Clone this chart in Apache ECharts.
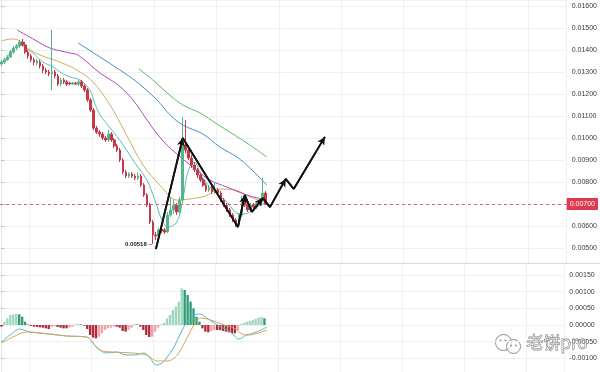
<!DOCTYPE html>
<html><head><meta charset="utf-8">
<script src="https://cdn.jsdelivr.net/npm/echarts@6/dist/echarts.min.js"></script>
<style>html,body{margin:0;padding:0;background:#fff}#c{width:600px;height:372px}</style>
</head><body><div id="c"></div>
<script>
// ---------- data ----------
const slotCount = 191; // candle slots across the visible time axis
const categories = Array.from({length: slotCount}, (_, i) => String(i));

const opens = [
0.01336,0.01345,0.01355,0.01368,0.01391,0.01409,0.01418,0.01436,0.01423,0.01391,
0.01373,0.01355,0.01340,0.01345,0.01327,0.01309,0.01300,0.01291,0.01300,0.01282,
0.01245,0.01264,0.01255,0.01250,0.01245,0.01250,0.01245,0.01255,0.01236,0.01218,
0.01173,0.01127,0.01045,0.01027,0.01018,0.01000,0.00991,0.01018,0.00991,0.00964,
0.00945,0.00900,0.00845,0.00827,0.00836,0.00827,0.00818,0.00827,0.00786,0.00741,
0.00695,0.00618,0.00559,0.00555,0.00586,0.00582,0.00573,0.00650,0.00673,0.00695,
0.00664,0.00718,0.00968,0.00945,0.00909,0.00877,0.00855,0.00832,0.00809,0.00786,
0.00764,0.00773,0.00755,0.00764,0.00750,0.00718,0.00695,0.00673,0.00650,0.00627,
0.00609,0.00650,0.00718,0.00695,0.00673,0.00695,0.00686,0.00705,0.00718,0.00750];
const closes = [
0.01345,0.01355,0.01368,0.01391,0.01409,0.01418,0.01436,0.01423,0.01391,0.01373,
0.01355,0.01345,0.01350,0.01327,0.01309,0.01300,0.01291,0.01300,0.01282,0.01245,
0.01264,0.01255,0.01245,0.01245,0.01250,0.01245,0.01255,0.01236,0.01218,0.01173,
0.01127,0.01045,0.01027,0.01018,0.01000,0.00991,0.01018,0.00991,0.00964,0.00945,
0.00900,0.00845,0.00827,0.00836,0.00827,0.00818,0.00827,0.00786,0.00741,0.00695,
0.00618,0.00559,0.00555,0.00582,0.00577,0.00573,0.00650,0.00673,0.00695,0.00664,
0.00718,0.00968,0.00945,0.00909,0.00877,0.00855,0.00832,0.00809,0.00786,0.00764,
0.00773,0.00755,0.00764,0.00750,0.00718,0.00695,0.00673,0.00650,0.00627,0.00609,
0.00650,0.00718,0.00695,0.00673,0.00695,0.00686,0.00705,0.00718,0.00750,0.00700];
const lows = [
0.01327,0.01336,0.01350,0.01364,0.01382,0.01400,0.01409,0.01414,0.01382,0.01360,
0.01345,0.01330,0.01330,0.01315,0.01295,0.01290,0.01280,0.01218,0.01270,0.01236,
0.01236,0.01245,0.01236,0.01240,0.01240,0.01240,0.01236,0.01227,0.01209,0.01164,
0.01118,0.01036,0.01018,0.01005,0.00991,0.00982,0.00982,0.00982,0.00955,0.00936,
0.00891,0.00836,0.00818,0.00818,0.00818,0.00809,0.00809,0.00777,0.00732,0.00686,
0.00609,0.00518,0.00536,0.00545,0.00568,0.00564,0.00568,0.00641,0.00655,0.00650,
0.00655,0.00705,0.00930,0.00900,0.00864,0.00845,0.00818,0.00800,0.00777,0.00755,
0.00755,0.00745,0.00745,0.00741,0.00709,0.00686,0.00664,0.00641,0.00618,0.00595,
0.00600,0.00641,0.00686,0.00664,0.00664,0.00677,0.00677,0.00695,0.00709,0.00695];
const highs = [
0.01355,0.01364,0.01377,0.01400,0.01418,0.01427,0.01445,0.01450,0.01436,0.01400,
0.01382,0.01364,0.01360,0.01355,0.01336,0.01318,0.01309,0.01491,0.01309,0.01291,
0.01273,0.01273,0.01264,0.01255,0.01255,0.01255,0.01264,0.01264,0.01245,0.01227,
0.01182,0.01136,0.01055,0.01036,0.01027,0.01009,0.01036,0.01027,0.01000,0.00973,
0.00955,0.00909,0.00855,0.00845,0.00845,0.00836,0.00845,0.00836,0.00795,0.00750,
0.00705,0.00627,0.00573,0.00591,0.00595,0.00591,0.00664,0.00732,0.00720,0.00705,
0.00732,0.01095,0.01082,0.00968,0.00923,0.00891,0.00864,0.00841,0.00818,0.00795,
0.00786,0.00782,0.00800,0.00773,0.00759,0.00727,0.00705,0.00682,0.00659,0.00636,
0.00659,0.00736,0.00727,0.00705,0.00705,0.00705,0.00714,0.00727,0.00820,0.00759];

// moving averages: [slot position, price]
const ma1Pos = [0,1.9,3.9,6.2,7.9,10.6,14.0,17.4,19.7,23.1,26.4,29.8,31.5,33.2,37.2,40.6,45.0,49.0,51.7,54.1,56.1,59.1,61.1,62.8,64.9,67.9,71.9,76.3,79.3,82.0,85.4,89.4];
const ma1Val = [0.01341,0.01368,0.01400,0.01423,0.01414,0.01386,0.01345,0.01323,0.01300,0.01277,0.01264,0.01218,0.01155,0.01105,0.01036,0.00977,0.00886,0.00809,0.00718,0.00627,0.00595,0.00618,0.00718,0.00845,0.00891,0.00818,0.00755,0.00705,0.00659,0.00655,0.00682,0.00709];
const ma2Pos = [0,3.5,6.2,8.6,13.0,18.7,25.4,30.8,36.6,41.6,47.7,53.4,59.1,63.5,68.6,73.6,78.7,83.7,89.4];
const ma2Val = [0.01441,0.01450,0.01441,0.01409,0.01377,0.01350,0.01309,0.01255,0.01150,0.01027,0.00877,0.00786,0.00718,0.00723,0.00736,0.00768,0.00764,0.00732,0.00705];
const ma3Pos = [5.2,11.3,16.3,23.1,25.8,33.2,39.3,44.3,50.7,55.1,59.5,64.5,70.2,76.0,82.7,89.4];
const ma3Val = [0.01491,0.01445,0.01409,0.01386,0.01377,0.01295,0.01241,0.01173,0.01050,0.00977,0.00923,0.00868,0.00809,0.00777,0.00741,0.00718];
const ma4Pos = [25.8,33.2,39.9,45.6,52.4,56.8,61.1,67.9,73.6,79.3,83.7,89.4];
const ma4Val = [0.01432,0.01368,0.01309,0.01255,0.01173,0.01105,0.01059,0.01018,0.00959,0.00914,0.00864,0.00786];
const ma5Pos = [46.3,51.0,55.8,61.1,66.9,72.6,78.0,83.7,89.4];
const ma5Val = [0.01314,0.01264,0.01205,0.01150,0.01114,0.01064,0.01018,0.00968,0.00914];

// hand-drawn zigzag projection: [slot position, price]
const pathPos = [52.05,61.1,79.7,82.0,84.4,88.1,90.5,95.8,98.5,109.0];
const pathVal = [0.00495,0.01000,0.00595,0.00741,0.00664,0.00727,0.00686,0.00814,0.00768,0.01005];

// MACD
const macdHist = [
-0.00005,0.00010,0.00020,0.00030,0.00032,0.00033,0.00032,0.00025,0.00010,0.00002,
-0.00003,-0.00005,-0.00006,-0.00007,-0.00008,-0.00010,-0.00012,-0.00006,-0.00004,-0.00006,
-0.00008,-0.00010,-0.00010,-0.00008,-0.00005,0.00002,0.00003,0.00002,-0.00002,-0.00012,
-0.00030,-0.00038,-0.00040,-0.00035,-0.00025,-0.00015,-0.00010,-0.00008,-0.00005,-0.00005,
-0.00008,-0.00018,-0.00020,-0.00015,-0.00008,0.00003,0.00002,-0.00005,-0.00015,-0.00030,
-0.00036,-0.00035,-0.00020,-0.00008,0.00002,0.00006,0.00020,0.00030,0.00045,0.00055,
0.00070,0.00110,0.00105,0.00090,0.00070,0.00050,0.00025,0.00010,-0.00010,-0.00020,
-0.00022,-0.00018,-0.00015,-0.00015,-0.00015,-0.00018,-0.00020,-0.00022,-0.00025,-0.00025,
-0.00015,0.00003,0.00006,0.00010,0.00012,0.00015,0.00018,0.00022,0.00024,0.00020];
const macdPos = [0,2.9,6.2,9.6,16.3,22.1,28.8,32.2,35.5,38.9,42.3,45.0,48.3,50.0,52.4,54.4,56.1,58.4,60.8,62.5,64.5,66.9,70.9,74.3,77.6,80.3,83.0,86.4,89.8];
const macdVal = [-0.00051,-0.00030,-0.00012,-0.00021,-0.00027,-0.00033,-0.00036,-0.00066,-0.00084,-0.00081,-0.00090,-0.00090,-0.00084,-0.00096,-0.00120,-0.00114,-0.00096,-0.00066,-0.00021,0.00006,0.00027,0.00033,0.00012,-0.00006,-0.00021,-0.00042,-0.00030,-0.00021,-0.00006];
const signalPos = [0,3.9,8.6,16.3,22.1,28.8,33.2,37.6,44.3,49.0,52.7,56.1,59.5,62.8,65.2,67.5,71.9,75.3,78.7,81.4,83.7,89.8];
const signalVal = [-0.00054,-0.00036,-0.00021,-0.00027,-0.00033,-0.00036,-0.00075,-0.00081,-0.00084,-0.00090,-0.00108,-0.00108,-0.00090,-0.00039,0.00000,0.00021,0.00012,0.00000,-0.00009,-0.00027,-0.00030,-0.00015];

// ---------- chart ----------
const pairs = (p, v) => p.map((x, i) => [x, v[i]]);
const candleData = opens.map((o, i) => [o, closes[i], lows[i], highs[i]]);
const lastClose = closes[closes.length - 1];
let lowIdx = 0; lows.forEach((v, i) => { if (v < lows[lowIdx]) lowIdx = i; });

const segs = [];
for (let i = 1; i < pathPos.length; i++) {
  const up = pathVal[i] > pathVal[i - 1];
  segs.push([{coord: [pathPos[i - 1], pathVal[i - 1]], symbol: 'none'},
             {coord: [pathPos[i], pathVal[i]], symbol: up ? 'arrow' : 'none'}]);
}

const FONT = '"Liberation Sans", Arial, sans-serif';
const gridLine = {show: true, lineStyle: {color: '#eef1f4', width: 1}};
const vSplit = {show: true, interval: (idx) => idx >= 10 && (idx - 10) % 21 === 0, lineStyle: {color: '#eef1f4', width: 1}};

const maLine = (name, p, v, color) => ({
  name, type: 'line', xAxisIndex: 1, yAxisIndex: 0, data: pairs(p, v),
  smooth: 0.35, showSymbol: false, silent: true,
  lineStyle: {color, width: 1}, z: 3
});

const chart = echarts.init(document.getElementById('c'), null, {renderer: 'canvas'});
chart.setOption({
  animation: false,
  backgroundColor: '#ffffff',
  textStyle: {fontFamily: FONT},
  grid: [
    {left: 0, right: 33, top: 0, height: 263},
    {left: 0, right: 33, top: 263, height: 109}
  ],
  xAxis: [
    {type: 'category', gridIndex: 0, data: categories, boundaryGap: true,
     axisLine: {show: true, lineStyle: {color: '#d6d9de'}}, axisTick: {show: false}, axisLabel: {show: false},
     splitLine: vSplit},
    {type: 'value', gridIndex: 0, min: -0.5, max: slotCount - 0.5, show: false},
    {type: 'category', gridIndex: 1, data: categories, boundaryGap: true,
     axisLine: {show: false}, axisTick: {show: false}, axisLabel: {show: false},
     splitLine: vSplit},
    {type: 'value', gridIndex: 1, min: -0.5, max: slotCount - 0.5, show: false}
  ],
  yAxis: [
    {type: 'value', gridIndex: 0, position: 'right', min: 0.00432, max: 0.01627,
     minInterval: 0.001, maxInterval: 0.001, splitNumber: 12,
     axisLine: {show: true, lineStyle: {color: '#dfe2e6'}},
     axisTick: {show: true, length: 3, lineStyle: {color: '#b8bcc2'}},
     axisLabel: {show: true, fontSize: 7, color: '#3a3a3a', margin: 5, fontFamily: FONT,
                 showMinLabel: false, showMaxLabel: false, formatter: v => v.toFixed(5)},
     splitLine: gridLine},
    {type: 'value', gridIndex: 1, position: 'right', min: -0.00141, max: 0.00186,
     minInterval: 0.0005, maxInterval: 0.0005, splitNumber: 6,
     axisLine: {show: true, lineStyle: {color: '#dfe2e6'}},
     axisTick: {show: true, length: 3, lineStyle: {color: '#b8bcc2'}},
     axisLabel: {show: true, fontSize: 7, color: '#3a3a3a', margin: 5, fontFamily: FONT,
                 showMinLabel: false, showMaxLabel: false, formatter: v => v.toFixed(5)},
     splitLine: gridLine}
  ],
  series: [
    {
      name: 'K', type: 'candlestick', xAxisIndex: 0, yAxisIndex: 0, data: candleData,
      barWidth: '70%', silent: true, z: 4,
      itemStyle: {color: '#56b48a', color0: '#c43848', borderColor: '#56b48a', borderColor0: '#c43848', borderWidth: 1},
      markLine: {
        silent: true, symbol: 'none', animation: false, precision: 5,
        lineStyle: {color: '#e06273', type: [3, 3], width: 1},
        label: {show: true, position: 'end', distance: 0, formatter: p => Number(p.value).toFixed(5),
                backgroundColor: '#e03a50', color: '#ffffff', fontSize: 7, fontFamily: FONT,
                padding: [3, 3, 2, 3]},
        data: [{yAxis: lastClose}]
      },
      markPoint: {
        silent: true, animation: false, symbol: 'circle', symbolSize: 0,
        label: {show: true, position: 'left', distance: 1, fontSize: 6, color: '#222', fontWeight: 'bold',
                fontFamily: FONT, formatter: () => lows[lowIdx].toFixed(5) + ' \u2013'},
        data: [{coord: [lowIdx, lows[lowIdx]]}]
      }
    },
    maLine('MA1', ma1Pos, ma1Val, '#58c0b4'),
    maLine('MA2', ma2Pos, ma2Val, '#d6aa5c'),
    maLine('MA3', ma3Pos, ma3Val, '#ad48bf'),
    maLine('MA4', ma4Pos, ma4Val, '#4a8cca'),
    maLine('MA5', ma5Pos, ma5Val, '#5cb860'),
    {
      name: 'path', type: 'line', xAxisIndex: 1, yAxisIndex: 0, data: pairs(pathPos, pathVal),
      showSymbol: false, silent: true, z: 6,
      lineStyle: {color: '#111111', width: 1.8},
      markLine: {
        silent: true, animation: false, symbol: ['none', 'arrow'], symbolSize: [6, 8], precision: 5,
        lineStyle: {color: '#111111', width: 1.8, type: 'solid'},
        label: {show: false}, emphasis: {disabled: true},
        data: segs
      }
    },
    {
      name: 'hist', type: 'bar', xAxisIndex: 2, yAxisIndex: 1, data: macdHist,
      barWidth: '80%', silent: true,
      itemStyle: {color: (p) => {
        const v = macdHist[p.dataIndex];
        const prev = p.dataIndex > 0 ? macdHist[p.dataIndex - 1] : 0;
        if (v >= 0) return v >= prev ? '#9fd6bd' : '#2e9c74';
        return v <= prev ? '#b42a3c' : '#f0a3ad';
      }}
    },
    {name: 'MACD', type: 'line', xAxisIndex: 3, yAxisIndex: 1, data: pairs(macdPos, macdVal),
     smooth: 0.35, showSymbol: false, silent: true, lineStyle: {color: '#4fb9c6', width: 1}, z: 3},
    {name: 'Signal', type: 'line', xAxisIndex: 3, yAxisIndex: 1, data: pairs(signalPos, signalVal),
     smooth: 0.35, showSymbol: false, silent: true, lineStyle: {color: '#d8a55a', width: 1}, z: 3}
  ],
  graphic: [
    {type: 'line', shape: {x1: 567, y1: 263.5, x2: 600, y2: 263.5}, style: {stroke: '#d6d9de', lineWidth: 1}, silent: true},
    {type: 'group', left: 495, top: 334, z: 100, children: [
      {type: 'circle', shape: {cx: 10, cy: 8, r: 8}, style: {fill: 'rgba(255,255,255,0.5)', stroke: '#8a8a8a', lineWidth: 1}},
      {type: 'circle', shape: {cx: 20, cy: 12, r: 7}, style: {fill: 'rgba(255,255,255,0.7)', stroke: '#8a8a8a', lineWidth: 1}},
      {type: 'circle', shape: {cx: 7, cy: 6, r: 1}, style: {fill: '#8a8a8a'}},
      {type: 'circle', shape: {cx: 12, cy: 6, r: 1}, style: {fill: '#8a8a8a'}},
      {type: 'circle', shape: {cx: 17.5, cy: 11, r: 0.9}, style: {fill: '#8a8a8a'}},
      {type: 'circle', shape: {cx: 22.5, cy: 11, r: 0.9}, style: {fill: '#8a8a8a'}}
    ]},
    {type: 'text', left: 526, top: 334, z: 100,
     style: {text: '老饼pro', font: '17px "Noto Sans CJK SC", sans-serif', fill: 'rgba(255,255,255,0.5)', stroke: '#7a7a7a', lineWidth: 0.8}}
  ]
});
</script>
</body></html>
